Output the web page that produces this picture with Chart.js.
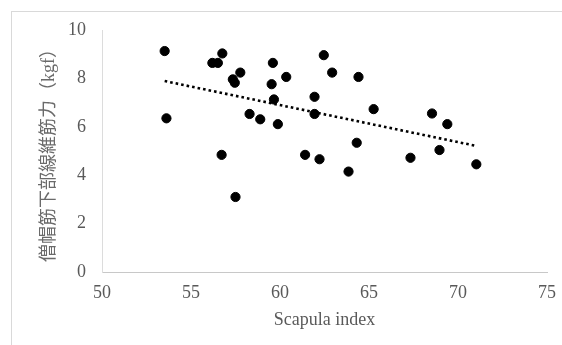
<!DOCTYPE html>
<html>
<head>
<meta charset="utf-8">
<script src="https://cdn.jsdelivr.net/npm/chart.js@4.4.1/dist/chart.umd.min.js"></script>
<style>
  html, body { margin: 0; padding: 0; background: #fff; }
  #wrap { position: relative; width: 562px; height: 345px; overflow: hidden; }
  #frame { position: absolute; left: 11px; top: 11px; right: 0; bottom: 0;
           border-top: 1px solid #d9d9d9; border-left: 1px solid #d9d9d9; }
  #chart { position: absolute; left: 0; top: 0; }
</style>
</head>
<body>
<div id="wrap">
  <div id="frame"></div>
  <canvas id="chart" width="562" height="345"></canvas>
</div>
<script>
// Scapula index (x) vs lower trapezius strength in kgf (y)
var scapulaIndex = [
  53.52, 53.62, 56.20, 56.51, 56.76, 56.72, 57.77, 57.35, 57.46, 57.50,
  58.29, 58.89, 59.60, 59.53, 59.66, 59.88, 60.35, 62.46, 62.93, 64.41,
  61.94, 61.94, 65.26, 68.54, 69.40, 64.31, 61.41, 62.22, 63.85, 67.33,
  68.96, 71.03
];
var strength = [
  9.13, 6.35, 8.64, 8.64, 9.03, 4.84, 8.24, 7.96, 7.82, 3.10,
  6.53, 6.31, 8.64, 7.76, 7.13, 6.11, 8.06, 8.96, 8.24, 8.06,
  7.24, 6.53, 6.73, 6.55, 6.11, 5.34, 4.84, 4.66, 4.15, 4.72,
  5.04, 4.45
];

// linear trendline ends
var trendX = [53.52, 71.03];
var trendY = [7.89, 5.21];

var xTicks = [50, 55, 60, 65, 70, 75];
var yTicks = [0, 2, 4, 6, 8, 10];

var xTitle = 'Scapula index';
var yTitle = '僧帽筋下部線維筋力（kgf）';

function toPoints(xs, ys) {
  return xs.map(function (x, i) { return { x: x, y: ys[i] }; });
}

var serif = '"Liberation Serif", "Times New Roman", serif';
var mixed = '"Liberation Serif", "Noto Sans CJK JP", serif';

new Chart(document.getElementById('chart').getContext('2d'), {
  type: 'scatter',
  data: {
    datasets: [{
      label: 'trend',
      data: toPoints(trendX, trendY),
      showLine: true,
      borderColor: '#000',
      borderWidth: 2.6,
      borderDash: [2.6, 3],
      pointRadius: 0,
      fill: false
    }, {
      label: 'data',
      data: toPoints(scapulaIndex, strength),
      backgroundColor: '#000',
      borderColor: '#000',
      borderWidth: 1,
      pointRadius: 4.6
    }]
  },
  options: {
    responsive: false,
    animation: false,
    layout: {
      padding: { left: 0, right: 15, top: 30, bottom: 0 }
    },
    plugins: {
      legend: { display: false },
      tooltip: { enabled: false }
    },
    scales: {
      x: {
        type: 'linear',
        min: xTicks[0],
        max: xTicks[xTicks.length - 1],
        afterBuildTicks: function (scale) {
          scale.ticks = xTicks.map(function (v) { return { value: v }; });
        },
        afterFit: function (scale) {
          scale.height = 73;
          scale.paddingLeft = 0;
          scale.paddingRight = 0;
        },
        grid: { display: false, drawTicks: false },
        border: { display: true, color: '#c8c8c8', width: 1 },
        ticks: {
          color: '#595959',
          padding: 10,
          font: { family: serif, size: 18 }
        },
        title: {
          display: true,
          text: xTitle,
          color: '#595959',
          padding: { top: 0, bottom: 14 },
          font: { family: serif, size: 18 }
        }
      },
      y: {
        type: 'linear',
        min: yTicks[0],
        max: yTicks[yTicks.length - 1],
        afterBuildTicks: function (scale) {
          scale.ticks = yTicks.map(function (v) { return { value: v }; });
        },
        afterFit: function (scale) {
          scale.width = 102;
          scale.paddingTop = 0;
          scale.paddingBottom = 0;
        },
        grid: { display: false, drawTicks: false },
        border: { display: true, color: '#dcdcdc', width: 1 },
        ticks: {
          color: '#595959',
          padding: 16,
          font: { family: serif, size: 18 }
        },
        title: {
          display: true,
          text: yTitle,
          color: '#6a6a6a',
          padding: { top: 38, bottom: 0 },
          font: { family: mixed, size: 18 }
        }
      }
    }
  }
});
</script>
</body>
</html>
